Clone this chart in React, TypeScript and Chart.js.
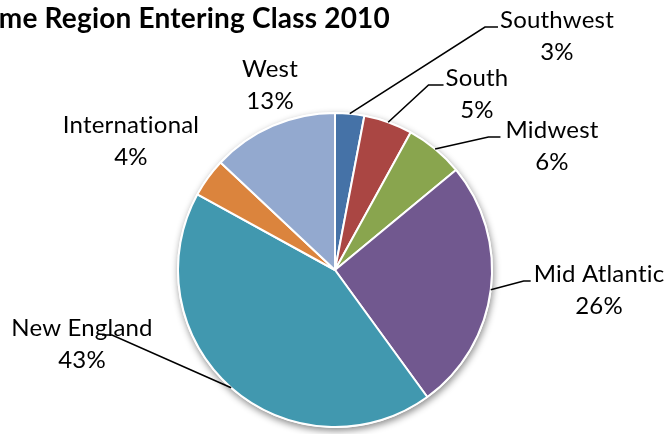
import React, { useEffect, useRef } from "react";
import { Chart, registerables } from "chart.js";

Chart.register(...registerables);

const regions = ["Southwest", "South", "Midwest", "Mid Atlantic", "New England", "International", "West"];
const shares = [3, 5, 6, 26, 43, 4, 13];
const sliceColors = ["#4572A7", "#AA4643", "#89A54E", "#71588F", "#4198AF", "#DB843D", "#93A9CF"];
const titleText = "Home Region Entering Class 2010";

// label layout: offset of the first text line (center x, baseline y) from pie center, and leader style
type Leader = { ref: "left" | "center"; elbow: number; stub: number } | null;
const labelLayout: { dx: number; dy: number; leader: Leader }[] = [
  { dx: 222, dy: -242, leader: { ref: "left", elbow: -15, stub: -2 } },
  { dx: 142, dy: -184, leader: { ref: "left", elbow: -17, stub: -2 } },
  { dx: 217, dy: -132, leader: { ref: "left", elbow: -17, stub: -5 } },
  { dx: 264, dy: 12, leader: { ref: "left", elbow: -10, stub: -3 } },
  { dx: -253, dy: 66, leader: { ref: "center", elbow: 30, stub: 20 } },
  { dx: -204, dy: -137, leader: null },
  { dx: -65, dy: -193, leader: null },
];

const LABEL_FONT = "24px Lato";
const LINE_GAP = 32;

const pieDecor = {
  id: "pieDecor",
  beforeDatasetsDraw(chart: any) {
    const arc = chart.getDatasetMeta(0).data[0];
    if (!arc) return;
    const ctx = chart.ctx;
    ctx.save();
    ctx.shadowColor = "rgba(0,0,0,0.45)";
    ctx.shadowBlur = 7;
    ctx.shadowOffsetX = 1;
    ctx.shadowOffsetY = 3;
    ctx.fillStyle = "#ffffff";
    ctx.beginPath();
    ctx.arc(arc.x, arc.y, arc.outerRadius + 1, 0, Math.PI * 2);
    ctx.fill();
    ctx.restore();
  },
  afterDatasetsDraw(chart: any) {
    const ctx = chart.ctx;
    const meta = chart.getDatasetMeta(0);
    const total = shares.reduce((a, b) => a + b, 0);
    ctx.save();
    try {
      (ctx as any).letterSpacing = "0.2px";
    } catch (e) {}
    // title
    ctx.font = "bold 28px Lato";
    ctx.fillStyle = "#000000";
    ctx.textAlign = "right";
    ctx.textBaseline = "alphabetic";
    ctx.fillText(titleText, 390, 28);

    ctx.font = LABEL_FONT;
    meta.data.forEach((arc: any, i: number) => {
      const lay = labelLayout[i];
      const cx = arc.x + lay.dx;
      const by = arc.y + lay.dy;
      const name = regions[i];
      const pct = Math.round((shares[i] / total) * 100) + "%";
      const w = ctx.measureText(name).width;
      if (lay.leader) {
        const mid = (arc.startAngle + arc.endAngle) / 2;
        const sx = arc.x + Math.cos(mid) * arc.outerRadius;
        const sy = arc.y + Math.sin(mid) * arc.outerRadius;
        const base = lay.leader.ref === "left" ? cx - w / 2 : cx;
        const ly = by - 1;
        ctx.strokeStyle = "#000000";
        ctx.lineWidth = 1.6;
        ctx.beginPath();
        ctx.moveTo(sx, sy);
        ctx.lineTo(base + lay.leader.elbow, ly);
        ctx.lineTo(base + lay.leader.stub, ly);
        ctx.stroke();
      }
      ctx.fillStyle = "#000000";
      ctx.textAlign = "center";
      ctx.fillText(name, cx, by);
      ctx.fillText(pct, cx, by + LINE_GAP);
    });
    ctx.restore();
  },
};

export default function App() {
  const ref = useRef<HTMLCanvasElement | null>(null);
  useEffect(() => {
    document.body.style.margin = "0";
    const canvas = ref.current;
    if (!canvas) return;
    const chart = new Chart(canvas, {
      type: "pie",
      data: {
        labels: regions,
        datasets: [
          {
            data: shares,
            backgroundColor: sliceColors,
            borderColor: "#ffffff",
            borderWidth: 2,
          },
        ],
      },
      options: {
        responsive: false,
        animation: false,
        layout: { padding: { top: 112, bottom: 6, left: 20, right: 17 } },
        plugins: {
          legend: { display: false },
          tooltip: { enabled: false },
          title: { display: false },
        },
      },
      plugins: [pieDecor],
    });
    return () => chart.destroy();
  }, []);
  return (
    <div style={{ width: 667, height: 434, background: "#ffffff" }}>
      <canvas ref={ref} width={667} height={434} style={{ display: "block" }} />
    </div>
  );
}
